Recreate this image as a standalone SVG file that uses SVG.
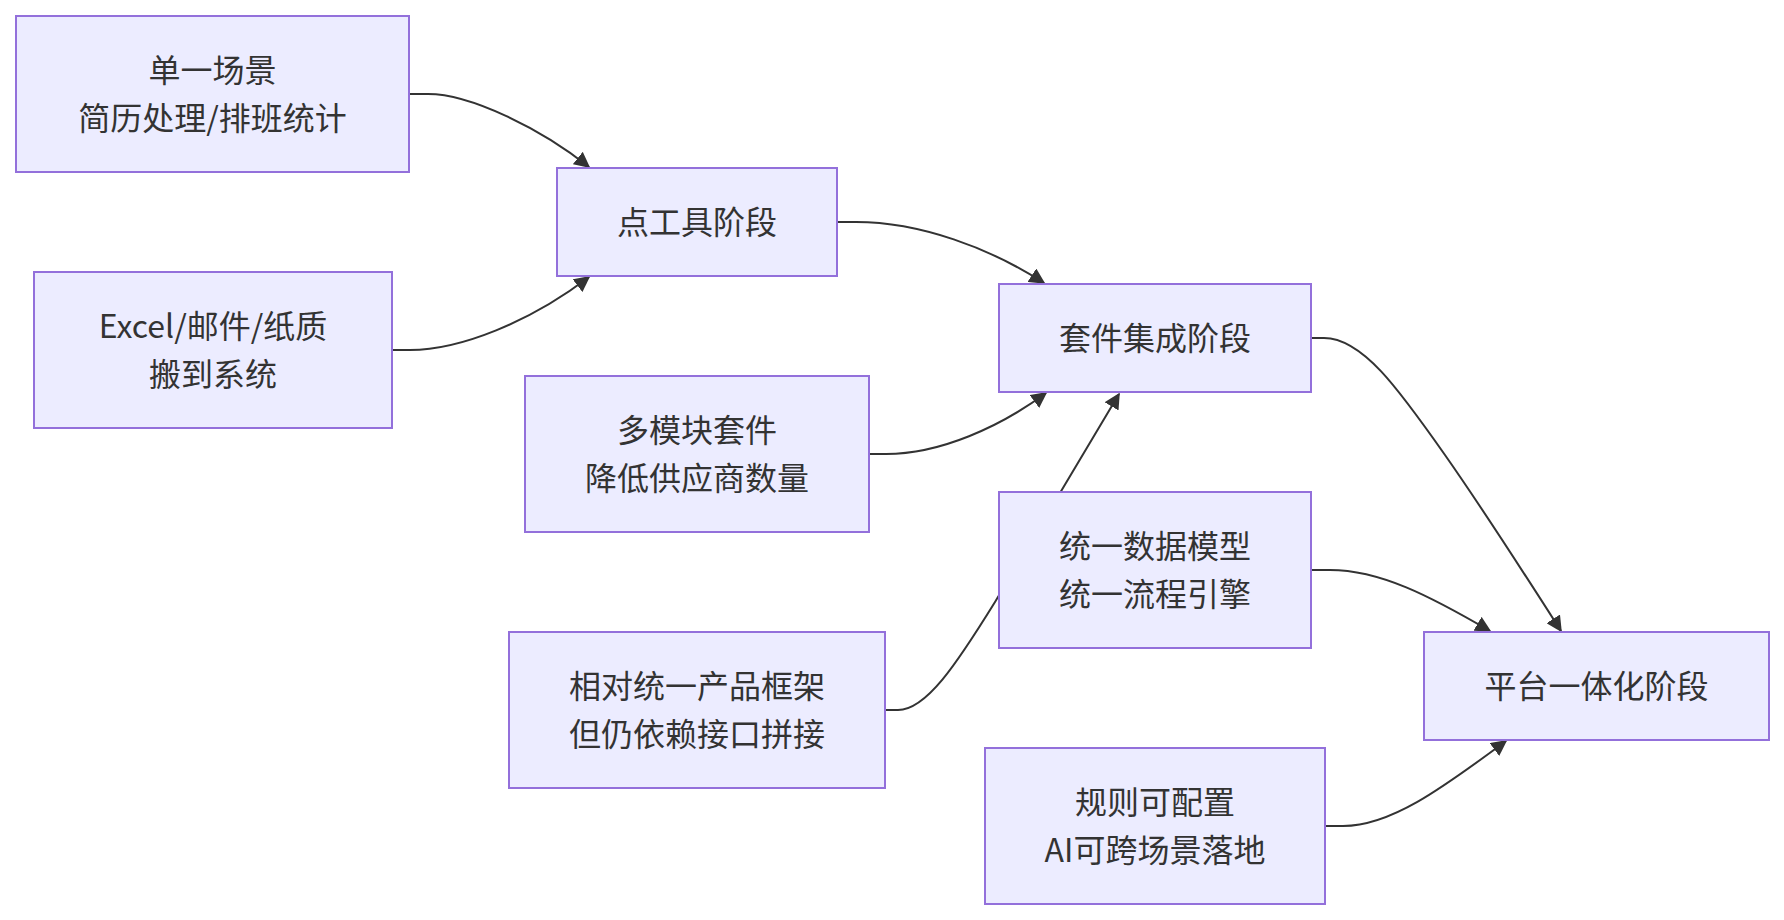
<svg xmlns="http://www.w3.org/2000/svg" width="1784" height="920" viewBox="0 0 1784 920">
<style>
.node rect{fill:#ECECFF;stroke:#9370DB;stroke-width:2}
.node text{font-family:"Noto Sans CJK SC","Noto Sans",sans-serif;font-size:32px;fill:#333333;text-anchor:middle;dominant-baseline:central}
.edges path{fill:none;stroke:#333333;stroke-width:2}
</style>
<defs>
<marker id="arr" viewBox="0 0 10 10" refX="9" refY="5" markerWidth="16" markerHeight="16" markerUnits="userSpaceOnUse" orient="auto">
<path d="M0,0 L10,5 L0,10 z" fill="#333333"/>
</marker>
</defs>
<rect width="1784" height="920" fill="#ffffff"/>
<g class="edges">
<path d="M409,94 L428,94 C470,94 540,128 589,167" marker-end="url(#arr)"/>
<path d="M392,350 L410,350 C460,350 530,322 589,277" marker-end="url(#arr)"/>
<path d="M837,222 L856,222 C920,222 990,248 1044,283" marker-end="url(#arr)"/>
<path d="M869,454 L886,454 C940,454 1000,427 1046,393" marker-end="url(#arr)"/>
<path d="M885,710 L898,710 C926,710 956,665 995,602 L1119,394" marker-end="url(#arr)"/>
<path d="M1311,338 L1324,338 C1362,338 1398,388 1445,455 C1485,512 1522,570 1561,631" marker-end="url(#arr)"/>
<path d="M1311,570 L1330,570 C1380,570 1430,596 1490,631" marker-end="url(#arr)"/>
<path d="M1325,826 L1343,826 C1390,826 1440,790 1506,741" marker-end="url(#arr)"/>
</g>
<g id="n-single" class="node">
<rect x="16" y="16" width="393" height="156"/>
<text x="212.5" y="68">单一场景</text>
<text x="212.5" y="116">简历处理/排班统计</text>
</g>
<g id="n-excel" class="node">
<rect x="34" y="272" width="358" height="156"/>
<text x="213" y="324">Excel/邮件/纸质</text>
<text x="213" y="372">搬到系统</text>
</g>
<g id="n-tool" class="node">
<rect x="557" y="168" width="280" height="108"/>
<text x="697" y="220">点工具阶段</text>
</g>
<g id="n-multi" class="node">
<rect x="525" y="376" width="344" height="156"/>
<text x="697" y="428">多模块套件</text>
<text x="697" y="476">降低供应商数量</text>
</g>
<g id="n-frame" class="node">
<rect x="509" y="632" width="376" height="156"/>
<text x="697" y="684">相对统一产品框架</text>
<text x="697" y="732">但仍依赖接口拼接</text>
</g>
<g id="n-suite" class="node">
<rect x="999" y="284" width="312" height="108"/>
<text x="1155" y="336">套件集成阶段</text>
</g>
<g id="n-unified" class="node">
<rect x="999" y="492" width="312" height="156"/>
<text x="1155" y="544">统一数据模型</text>
<text x="1155" y="592">统一流程引擎</text>
</g>
<g id="n-rules" class="node">
<rect x="985" y="748" width="340" height="156"/>
<text x="1155" y="800">规则可配置</text>
<text x="1155" y="848">AI可跨场景落地</text>
</g>
<g id="n-platform" class="node">
<rect x="1424" y="632" width="345" height="108"/>
<text x="1596.5" y="684">平台一体化阶段</text>
</g>
</svg>
